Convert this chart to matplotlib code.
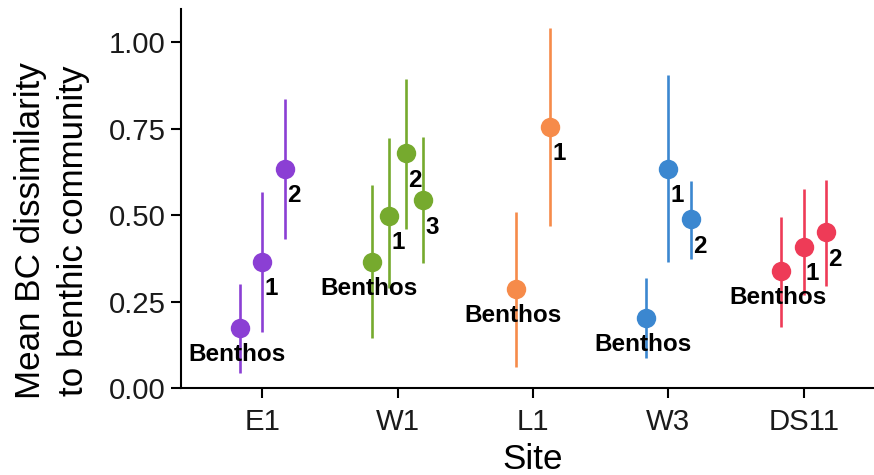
import numpy as np
import matplotlib
matplotlib.use('Agg')
import matplotlib.pyplot as plt

plt.rcParams['font.family'] = ['Liberation Sans', 'DejaVu Sans']

# data
sites = ['E1', 'W1', 'L1', 'W3', 'DS11']
site_colors = ['#8B3FD4', '#76AA2E', '#F68B4A', '#3B87D0', '#EE3B57']

e1_labels = ['Benthos', '1', '2']
e1_mean = [0.173, 0.366, 0.634]
e1_low = [0.043, 0.164, 0.431]
e1_high = [0.302, 0.566, 0.837]

w1_labels = ['Benthos', '1', '2', '3']
w1_mean = [0.366, 0.499, 0.679, 0.544]
w1_low = [0.146, 0.290, 0.459, 0.361]
w1_high = [0.586, 0.724, 0.895, 0.726]

l1_labels = ['Benthos', '1']
l1_mean = [0.286, 0.756]
l1_low = [0.062, 0.469]
l1_high = [0.510, 1.040]

w3_labels = ['Benthos', '1', '2']
w3_mean = [0.202, 0.634, 0.488]
w3_low = [0.087, 0.364, 0.373]
w3_high = [0.318, 0.905, 0.600]

ds11_labels = ['Benthos', '1', '2']
ds11_mean = [0.340, 0.409, 0.451]
ds11_low = [0.178, 0.270, 0.297]
ds11_high = [0.496, 0.577, 0.602]

groups = [
    (e1_labels, e1_mean, e1_low, e1_high),
    (w1_labels, w1_mean, w1_low, w1_high),
    (l1_labels, l1_mean, l1_low, l1_high),
    (w3_labels, w3_mean, w3_low, w3_high),
    (ds11_labels, ds11_mean, ds11_low, ds11_high),
]

fig = plt.figure(figsize=(8.74, 4.75), dpi=100)
ax = fig.add_axes([181 / 874, 86.7 / 475, 704 / 874, 379.3 / 475])

# ggplot style position_dodge(width = 0.5)
dodge = 0.5
for i, (labs, mean, low, high) in enumerate(groups):
    n = len(labs)
    col = site_colors[i]
    for j in range(n):
        x = (i + 1) - dodge / 2 + dodge / n * (j + 0.5)
        ax.vlines(x, low[j], high[j], color=col, lw=1.9, zorder=2)
        ax.plot(x, mean[j], 'o', ms=14, color=col, mec='none', zorder=3)
        if labs[j] == 'Benthos':
            ax.annotate(labs[j], (x, mean[j]), xytext=(-2, -19),
                        textcoords='offset points', ha='center', va='center',
                        fontsize=17.5, fontweight='bold', zorder=4)
        else:
            ax.annotate(labs[j], (x, mean[j]), xytext=(1.5, -19.5),
                        textcoords='offset points', ha='left', va='center',
                        fontsize=17.5, fontweight='bold', zorder=4)

ax.set_xlim(0.4, 5.6)
ax.set_ylim(0, 1.096)
ax.set_xticks(range(1, 6))
ax.set_xticklabels(sites)
ax.set_yticks([0, 0.25, 0.5, 0.75, 1.0])
ax.set_yticklabels(['0.00', '0.25', '0.50', '0.75', '1.00'])

for s in ['top', 'right']:
    ax.spines[s].set_visible(False)
for s in ['left', 'bottom']:
    ax.spines[s].set_linewidth(1.5)
ax.spines['bottom'].set_clip_on(False)

ax.tick_params(width=1.5, length=7, labelsize=21.2, colors='#000000',
               labelcolor='#1a1a1a')
ax.tick_params(axis='x', pad=7)
ax.tick_params(axis='y', pad=4)

ax.set_xlabel('Site', fontsize=25.2, labelpad=5)
# y title sits a bit below the panel centre in the original
fig.text(52 / 874, 1 - 231 / 475, 'Mean BC dissimilarity\nto benthic community',
         rotation=90, ha='center', va='center', fontsize=25.2,
         linespacing=1.4, multialignment='center')

fig.savefig('out.png', dpi=100)
